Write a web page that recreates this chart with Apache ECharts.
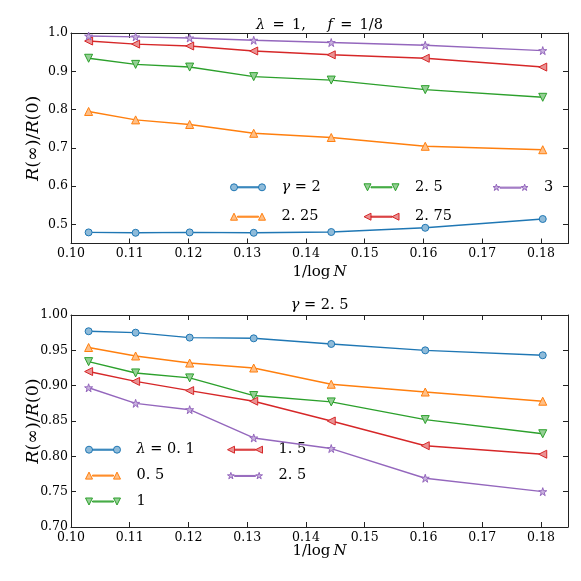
<!DOCTYPE html>
<html><head><meta charset="utf-8">
<script src="https://cdn.jsdelivr.net/npm/echarts@6/dist/echarts.min.js"></script>
<style>html,body{margin:0;padding:0;background:#fff}#c{width:581px;height:581px}</style>
</head><body><div id="c"></div>
<script>
// ---------- data ----------
const xVals = [0.1030, 0.1110, 0.1202, 0.1311, 0.1443, 0.1603, 0.1803];

const topNames  = ['γ = 2', 'γ = 2. 25', 'γ = 2. 5', 'γ = 2. 75', 'γ = 3'];
const topLabels = ['γ = 2', '2. 25', '2. 5', '2. 75', '3'];
const topG2   = [0.479, 0.478, 0.479, 0.478, 0.480, 0.491, 0.514];
const topG225 = [0.795, 0.773, 0.761, 0.738, 0.727, 0.704, 0.695];
const topG25  = [0.934, 0.918, 0.911, 0.886, 0.877, 0.852, 0.832];
const topG275 = [0.979, 0.971, 0.966, 0.953, 0.943, 0.934, 0.911];
const topG3   = [0.992, 0.990, 0.987, 0.981, 0.975, 0.968, 0.954];

const botNames  = ['λ = 0. 1', 'λ = 0. 5', 'λ = 1', 'λ = 1. 5', 'λ = 2. 5'];
const botLabels = ['λ = 0. 1', '0. 5', '1', '1. 5', '2. 5'];
const botL01 = [0.977, 0.975, 0.968, 0.967, 0.959, 0.950, 0.943];
const botL05 = [0.954, 0.942, 0.932, 0.925, 0.902, 0.891, 0.878];
const botL1  = [0.934, 0.918, 0.911, 0.886, 0.877, 0.852, 0.832];
const botL15 = [0.920, 0.906, 0.893, 0.878, 0.850, 0.815, 0.803];
const botL25 = [0.897, 0.875, 0.866, 0.826, 0.811, 0.769, 0.750];

const topTitle = '{i|λ}\u2002=\u20021,\u2003\u2002{i|f}\u2002=\u20021/8';
const botTitle = '{i|γ} = 2. 5';
const xName = '1/log\u2009{i|N}';
const yName = '{i|R}(∞)/{i|R}(0)';

// ---------- style ----------
const colors = ['#1f77b4', '#ff7f0e', '#2ca02c', '#d62728', '#9467bd'];
const fills  = ['#8fbbd9', '#ffbf86', '#95cf95', '#ea9293', '#c9b3de'];
const shapes = ['circle', 'up', 'down', 'left', 'star'];
const SERIF = 'DejaVu Serif';

const starPts = [[0,-1],[0.2245,-0.309],[0.9511,-0.309],[0.3633,0.118],[0.5878,0.809],[0,0.382],[-0.5878,0.809],[-0.3633,0.118],[-0.9511,-0.309],[-0.2245,-0.309]];
function shapePath(t, cx, cy, r) {
  const f = n => (+n).toFixed(3);
  if (t === 'circle') return `M${f(cx-r)},${f(cy)}A${f(r)},${f(r)},0,1,0,${f(cx+r)},${f(cy)}A${f(r)},${f(r)},0,1,0,${f(cx-r)},${f(cy)}Z`;
  if (t === 'up') return `M${f(cx)},${f(cy-r)}L${f(cx+r)},${f(cy+r)}L${f(cx-r)},${f(cy+r)}Z`;
  if (t === 'down') return `M${f(cx)},${f(cy+r)}L${f(cx+r)},${f(cy-r)}L${f(cx-r)},${f(cy-r)}Z`;
  if (t === 'left') return `M${f(cx-r)},${f(cy)}L${f(cx+r)},${f(cy-r)}L${f(cx+r)},${f(cy+r)}Z`;
  return 'M' + starPts.map(p => `${f(cx+p[0]*r)},${f(cy+p[1]*r)}`).join('L') + 'Z';
}
function seriesSymbol(t) { return t === 'circle' ? 'circle' : 'path://' + shapePath(t, 0, 0, 1); }
const symSize = {circle: 7, up: 8, down: 8, left: 8, star: 8};
function legendIcon(t) {
  const r = 3.5, c1 = 3.5, c2 = 31.5, cy = 3.5;
  return 'path://' + shapePath(t, c1, cy, r) + shapePath(t, c2, cy, r) +
    `M${c1+r},${cy-0.5}L${c2-r},${cy-0.5}L${c2-r},${cy+0.5}L${c1+r},${cy+0.5}Z`;
}

function mathStyle(size) {
  return {fontFamily: SERIF, fontSize: size, color: '#000', fontWeight: 'normal',
    rich: {i: {fontFamily: SERIF, fontStyle: 'italic', fontSize: size, color: '#000'}}};
}

function near(v, k) { return Math.abs(v * k - Math.round(v * k)) < 1e-6; }

function xAxes(grid, gap) {
  const base = {type: 'value', gridIndex: grid, min: 0.10, max: 0.1846, interval: 0.01,
    axisLine: {show: true, onZero: false, lineStyle: {color: '#222', width: 1}},
    axisTick: {show: true, inside: true, length: 5, lineStyle: {color: '#222', width: 1}},
    splitLine: {show: false}};
  return [
    Object.assign({}, base, {position: 'bottom',
      axisLabel: {show: true, margin: 4, fontFamily: SERIF, fontSize: 12.5, color: '#000',
        formatter: v => near(v, 100) ? v.toFixed(2) : ''},
      name: xName, nameLocation: 'middle', nameGap: gap, nameMoveOverlap: false,
      nameTextStyle: mathStyle(15)}),
    Object.assign({}, base, {position: 'top', axisLabel: {show: false}})
  ];
}
function yAxes(grid, range) {
  const base = {type: 'value', gridIndex: grid, min: range.min, max: range.max,
    axisLine: {show: true, onZero: false, lineStyle: {color: '#222', width: 1}},
    axisTick: {show: true, inside: true, length: 5, lineStyle: {color: '#222', width: 1}},
    splitLine: {show: false}};
  if (range.interval) base.interval = range.interval;
  else { base.minInterval = range.step; base.maxInterval = range.step; base.splitNumber = 5; }
  return [
    Object.assign({}, base, {position: 'left',
      axisLabel: {show: true, margin: 3, fontFamily: SERIF, fontSize: 12.5, color: '#000',
        formatter: v => near(v, range.k) ? v.toFixed(range.dec) : ''},
      name: yName, nameLocation: 'middle', nameGap: 29, nameRotate: 90, nameMoveOverlap: false,
      nameTextStyle: mathStyle(17.5)}),
    Object.assign({}, base, {position: 'right', axisLabel: {show: false}})
  ];
}

const topSets = [topG2, topG225, topG25, topG275, topG3];
const botSets = [botL01, botL05, botL1, botL15, botL25];

function mkSeries(names, sets, xIdx, yIdx) {
  return sets.map((vals, i) => ({
    type: 'line', name: names[i], xAxisIndex: xIdx, yAxisIndex: yIdx,
    data: xVals.map((x, j) => [x, vals[j]]),
    symbol: seriesSymbol(shapes[i]), symbolSize: symSize[shapes[i]],
    lineStyle: {color: colors[i], width: 1.4},
    itemStyle: {color: fills[i], borderColor: colors[i], borderWidth: 1},
    emphasis: {disabled: true}, animation: false, z: 2 + i
  }));
}

function mkLegend(names, labels, idxs, left, top, gap) {
  return {
    orient: 'vertical', left: left, top: top, padding: 0, itemGap: gap,
    itemWidth: 35, itemHeight: 7, selectedMode: false, symbolRotate: 0,
    data: idxs.map(i => ({name: names[i], icon: legendIcon(shapes[i]),
      itemStyle: {color: fills[i], borderColor: colors[i], borderWidth: 1}})),
    formatter: name => {
      const lab = labels[names.indexOf(name)];
      return lab.replace(/^([γλ])/, '{i|$1}');
    },
    textStyle: Object.assign(mathStyle(14.5), {lineHeight: 20, padding: [0, 0, 0, 11]})
  };
}

const option = {
  backgroundColor: '#fff',
  animation: false,
  title: [
    {text: topTitle, left: 319.5, top: 18, textAlign: 'center', padding: 0,
      textStyle: mathStyle(14.5)},
    {text: botTitle, left: 319.5, top: 298, textAlign: 'center', padding: 0,
      textStyle: mathStyle(14.5)}
  ],
  grid: [
    {left: 71, top: 33, width: 497, height: 210.5, containLabel: false, outerBoundsMode: 'none'},
    {left: 71, top: 315, width: 497, height: 212, containLabel: false, outerBoundsMode: 'none'}
  ],
  xAxis: [...xAxes(0, 21), ...xAxes(1, 17)],
  yAxis: [...yAxes(0, {min: 0.45, max: 1.0, step: 0.1, k: 10, dec: 1}),
          ...yAxes(1, {min: 0.70, max: 1.00, interval: 0.05, k: 20, dec: 2})],
  legend: [
    mkLegend(topNames, topLabels, [0, 1], 230, 177.3, 9.4),
    mkLegend(topNames, topLabels, [2, 3], 363.5, 177.3, 9.4),
    mkLegend(topNames, topLabels, [4], 492.5, 177.3, 9.4),
    mkLegend(botNames, botLabels, [0, 1, 2], 85, 439.7, 5.9),
    mkLegend(botNames, botLabels, [3, 4], 227, 439.7, 5.9)
  ],
  series: [...mkSeries(topNames, topSets, 0, 0), ...mkSeries(botNames, botSets, 2, 2)]
};

const chart = echarts.init(document.getElementById('c'), null, {renderer: 'canvas'});
chart.setOption(option);
</script>
</body></html>
